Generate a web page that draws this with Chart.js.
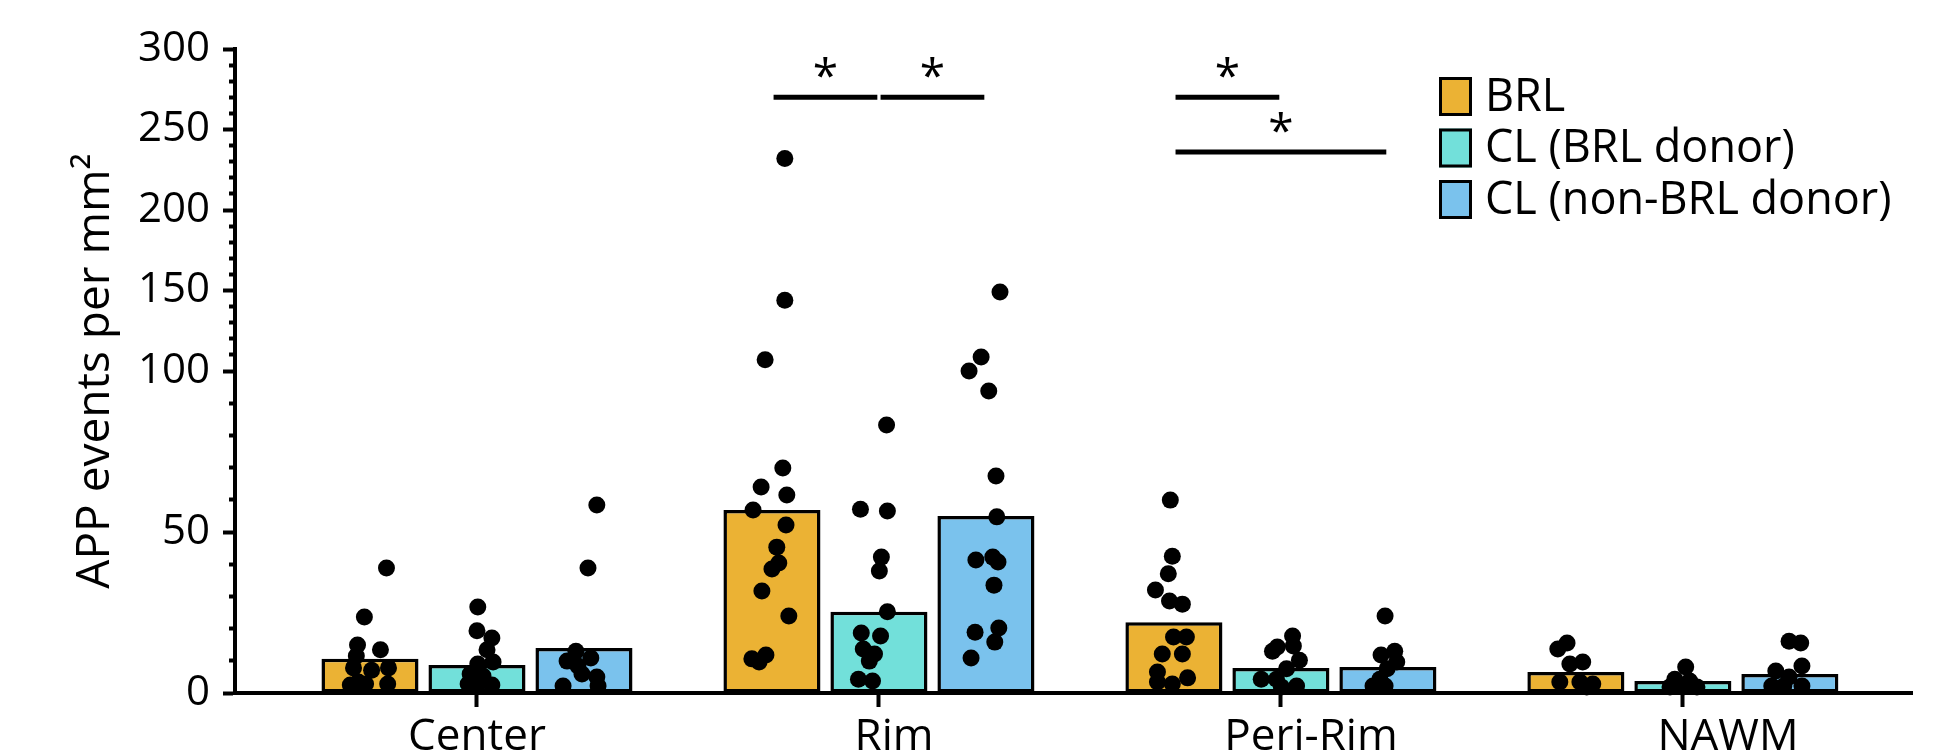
<!DOCTYPE html>
<html>
<head>
<meta charset="utf-8">
<script src="https://cdn.jsdelivr.net/npm/chart.js@4/dist/chart.umd.min.js"></script>
<style>
  html, body { margin: 0; padding: 0; background: #fff; }
</style>
</head>
<body>
<canvas id="chart" width="1957" height="755"></canvas>
<script>
const categories = ['Center', 'Rim', 'Peri-Rim', 'NAWM'];
const seriesNames = ['BRL', 'CL (BRL donor)', 'CL (non-BRL donor)'];
const seriesColors = ['#ebb234', '#72e0da', '#7ac2ed'];

// bar heights (mean per lesion type)
const brlMeans = [10.6, 56.8, 22.0, 6.5];
const clBrlMeans = [8.7, 25.2, 7.8, 3.7];
const clNonBrlMeans = [14.0, 55.0, 8.1, 5.9];

// single lesions: [horizontal jitter, value], one list per category
const brlPoints = [
  [[0.041, 38.8], [-0.014, 23.6], [-0.031, 14.9], [0.026, 13.4], [-0.034, 11.5], [-0.041, 7.8],
   [0.004, 7.1], [0.046, 7.8], [-0.049, 2.5], [-0.011, 2.8], [0.044, 2.8], [-0.029, 3.4]],
  [[0.032, 232], [0.032, 144], [-0.017, 107], [0.027, 69.9], [-0.027, 64], [0.037, 61.5],
   [-0.047, 56.8], [0.035, 52.2], [0.012, 45.3], [0.017, 40.4], [0.0, 38.5], [-0.025, 31.7],
   [0.042, 23.9], [-0.015, 11.8], [-0.050, 10.6], [-0.032, 9.6]],
  [[-0.009, 59.9], [-0.004, 42.5], [-0.014, 37], [-0.046, 32], [-0.011, 28.6], [0.021, 27.6],
   [-0.001, 17.4], [0.031, 17.4], [-0.029, 12.1], [0.021, 12.1], [-0.041, 6.5], [0.034, 4.7],
   [-0.004, 2.8], [-0.041, 3.4]],
  [[-0.022, 15.5], [-0.045, 13.7], [0.017, 9.6], [-0.015, 9], [-0.040, 3.4], [0.010, 3.4],
   [0.042, 2.8], [0.027, 1.9]]
];
const clBrlPoints = [
  [[0.002, 26.7], [0.0, 19.3], [0.037, 17.1], [0.025, 13.4], [0.040, 9.6], [0.002, 9.0],
   [-0.017, 5.9], [0.015, 5.3], [-0.022, 2.8], [0.037, 2.5], [0.0, 2.2]],
  [[0.019, 83.2], [-0.046, 57.1], [0.021, 56.5], [0.006, 42.2], [0.001, 37.9], [0.021, 25.2],
   [-0.044, 18.6], [0.004, 17.7], [-0.039, 13.7], [-0.011, 12.1], [-0.024, 9.9], [-0.051, 4.3],
   [-0.016, 3.7]],
  [[0.029, 17.7], [-0.021, 13], [-0.009, 14.3], [0.031, 14.6], [0.046, 10.2], [0.014, 7.5],
   [-0.049, 4.3], [-0.011, 4.3], [0.039, 2.2], [0.001, 1.9]],
  [[0.007, 8.1], [-0.020, 4.3], [0.017, 3.7], [-0.032, 1.9], [0.0, 1.9], [0.035, 1.9]]
];
const clNonBrlPoints = [
  [[0.032, 58.4], [0.010, 38.8], [-0.020, 13], [-0.042, 9.9], [0.017, 10.9], [-0.015, 8.4],
   [-0.005, 5.9], [0.032, 5], [-0.052, 2.2], [0.035, 2.2]],
  [[0.035, 149], [-0.012, 108.7], [-0.042, 100], [0.007, 93.8], [0.025, 67.4], [0.027, 54.7],
   [-0.025, 41.3], [0.017, 42.2], [0.030, 40.7], [0.020, 33.5], [-0.027, 18.9], [0.032, 20.2],
   [0.022, 15.8], [-0.037, 10.9]],
  [[-0.007, 23.9], [0.017, 13], [-0.017, 11.8], [0.022, 9.6], [-0.002, 7.5], [-0.020, 4.3],
   [-0.037, 2.2], [-0.007, 2.2]],
  [[-0.002, 16.1], [0.027, 15.5], [0.030, 8.4], [-0.035, 6.8], [-0.002, 5], [-0.045, 2.2],
   [0.030, 2.2], [-0.015, 2.2]]
];

// significance brackets: category, from series, to series, height
const sigBrackets = [
  { cat: 1, from: 0, to: 1, y: 270 },
  { cat: 1, from: 1, to: 2, y: 270 },
  { cat: 2, from: 0, to: 1, y: 270 },
  { cat: 2, from: 0, to: 2, y: 236 }
];

const yMajorTicks = [0, 50, 100, 150, 200, 250, 300];
const yMinorStep = 10;

const FONT = "'Open Sans', 'DejaVu Sans', sans-serif";
const CAT_PCT = 0.7985;
const BAR_PCT = 0.907;
const slotOffset = s => (s - 1) * CAT_PCT / 3;

// y axis is squeezed 2:1 above 100
const BREAK = 100;
const squash = v => v <= BREAK ? v : BREAK + (v - BREAK) / 2;
const unsquash = t => t <= BREAK ? t : BREAK + (t - BREAK) * 2;

class BrokenLinearScale extends Chart.LinearScale {
  getPixelForValue(value) {
    const lo = squash(this.min), hi = squash(this.max);
    return this.getPixelForDecimal((squash(value) - lo) / (hi - lo));
  }
  getValueForPixel(pixel) {
    const lo = squash(this.min), hi = squash(this.max);
    return unsquash(lo + this.getDecimalForPixel(pixel) * (hi - lo));
  }
}
BrokenLinearScale.id = 'brokenLinear';
BrokenLinearScale.defaults = Chart.LinearScale.defaults;
Chart.register(BrokenLinearScale);

Chart.defaults.font.family = FONT;
Chart.defaults.color = '#000';

const means = [brlMeans, clBrlMeans, clNonBrlMeans];
const points = [brlPoints, clBrlPoints, clNonBrlPoints];

const barSets = means.map((m, s) => ({
  type: 'bar',
  label: seriesNames[s],
  data: m.map((v, i) => ({ x: i, y: v })),
  backgroundColor: seriesColors[s],
  borderColor: '#000',
  borderWidth: 3.5,
  borderSkipped: false,
  categoryPercentage: CAT_PCT,
  barPercentage: BAR_PCT,
  order: 2
}));

const dotSets = points.map((byCat, s) => ({
  type: 'scatter',
  label: seriesNames[s] + ' lesions',
  data: byCat.flatMap((list, i) => list.map(([dx, v]) => ({ x: i + slotOffset(s) + dx, y: v }))),
  backgroundColor: '#000',
  borderWidth: 0,
  pointRadius: 8.5,
  clip: false,
  order: 0
}));

const bracketSets = sigBrackets.map(b => ({
  type: 'line',
  label: 'sig',
  data: [
    { x: b.cat + slotOffset(b.from) + 0.004, y: b.y },
    { x: b.cat + slotOffset(b.to) - 0.004, y: b.y }
  ],
  borderColor: '#000',
  borderWidth: 5,
  pointRadius: 0,
  clip: false,
  order: 1
}));

const extrasPlugin = {
  id: 'extras',
  afterDatasetsDraw(chart) {
    const { ctx, chartArea, scales: { x, y } } = chart;
    ctx.save();
    // asterisks over brackets
    ctx.font = '46px ' + FONT;
    ctx.fillStyle = '#000';
    ctx.textAlign = 'center';
    ctx.textBaseline = 'alphabetic';
    sigBrackets.forEach(b => {
      const mid = b.cat + (slotOffset(b.from) + slotOffset(b.to)) / 2;
      ctx.fillText('*', x.getPixelForValue(mid), y.getPixelForValue(b.y) - 5);
    });
    // legend
    const lx = chartArea.right - 473, ly = 77;
    ctx.font = '45px ' + FONT;
    ctx.textAlign = 'left';
    ctx.textBaseline = 'middle';
    barSets.forEach((ds, i) => {
      const top = ly + i * 51.5;
      ctx.fillStyle = ds.backgroundColor;
      ctx.fillRect(lx, top, 33, 39);
      ctx.lineWidth = 3;
      ctx.strokeStyle = '#000';
      ctx.strokeRect(lx + 1.5, top + 1.5, 30, 36);
      ctx.fillStyle = '#000';
      ctx.fillText(ds.label, lx + 46, top + 21);
    });
    ctx.restore();
  }
};

const yTickValues = [];
for (let v = 0; v <= 300; v += yMinorStep) yTickValues.push(v);
const isMajor = v => yMajorTicks.includes(v);
const catTicks = s => { s.ticks = categories.map((c, i) => ({ value: i })); };

new Chart(document.getElementById('chart'), {
  type: 'bar',
  data: { datasets: [...barSets, ...bracketSets, ...dotSets] },
  options: {
    responsive: false,
    animation: false,
    layout: { padding: { top: 49, right: 45, bottom: 0, left: 0 } },
    plugins: { legend: { display: false }, tooltip: { enabled: false } },
    scales: {
      x: {
        type: 'linear',
        offset: false,
        weight: 0,
        min: -0.602,
        max: 3.570,
        afterBuildTicks: catTicks,
        afterFit: s => { s.height = 14; },
        ticks: { display: false, autoSkip: false },
        grid: { offset: false, drawOnChartArea: false, tickLength: 14, tickWidth: 4, tickColor: '#000' },
        border: { display: true, width: 4, color: '#000' }
      },
      // category names sit on a slightly wider spacing than the bar groups
      xLabels: {
        type: 'linear',
        position: 'bottom',
        axis: 'x',
        offset: false,
        weight: 1,
        min: -0.5803,
        max: 3.4413,
        afterBuildTicks: catTicks,
        afterFit: s => { s.height = 48; },
        ticks: {
          autoSkip: false,
          maxRotation: 0,
          padding: 4,
          font: { size: 44 },
          callback: v => categories[v]
        },
        grid: { display: false, drawTicks: false },
        border: { display: false }
      },
      y: {
        type: 'brokenLinear',
        min: 0,
        max: 300,
        afterBuildTicks: s => { s.ticks = yTickValues.map(v => ({ value: v })); },
        afterFit: s => { s.width = 235; },
        ticks: {
          autoSkip: false,
          padding: 13,
          font: { size: 42 },
          callback: v => isMajor(v) ? String(v) : ''
        },
        grid: {
          drawOnChartArea: false,
          tickLength: 12,
          tickWidth: 4,
          tickColor: '#000',
          tickBorderDash: c => isMajor(c.tick.value) ? [] : [6, 6],
          tickBorderDashOffset: c => isMajor(c.tick.value) ? 0 : 6
        },
        border: { display: true, width: 4, color: '#000' },
        title: {
          display: true,
          text: 'APP events per mm²',
          font: { size: 46 },
          padding: { top: 68, bottom: 0 }
        }
      }
    }
  },
  plugins: [extrasPlugin]
});
</script>
</body>
</html>
